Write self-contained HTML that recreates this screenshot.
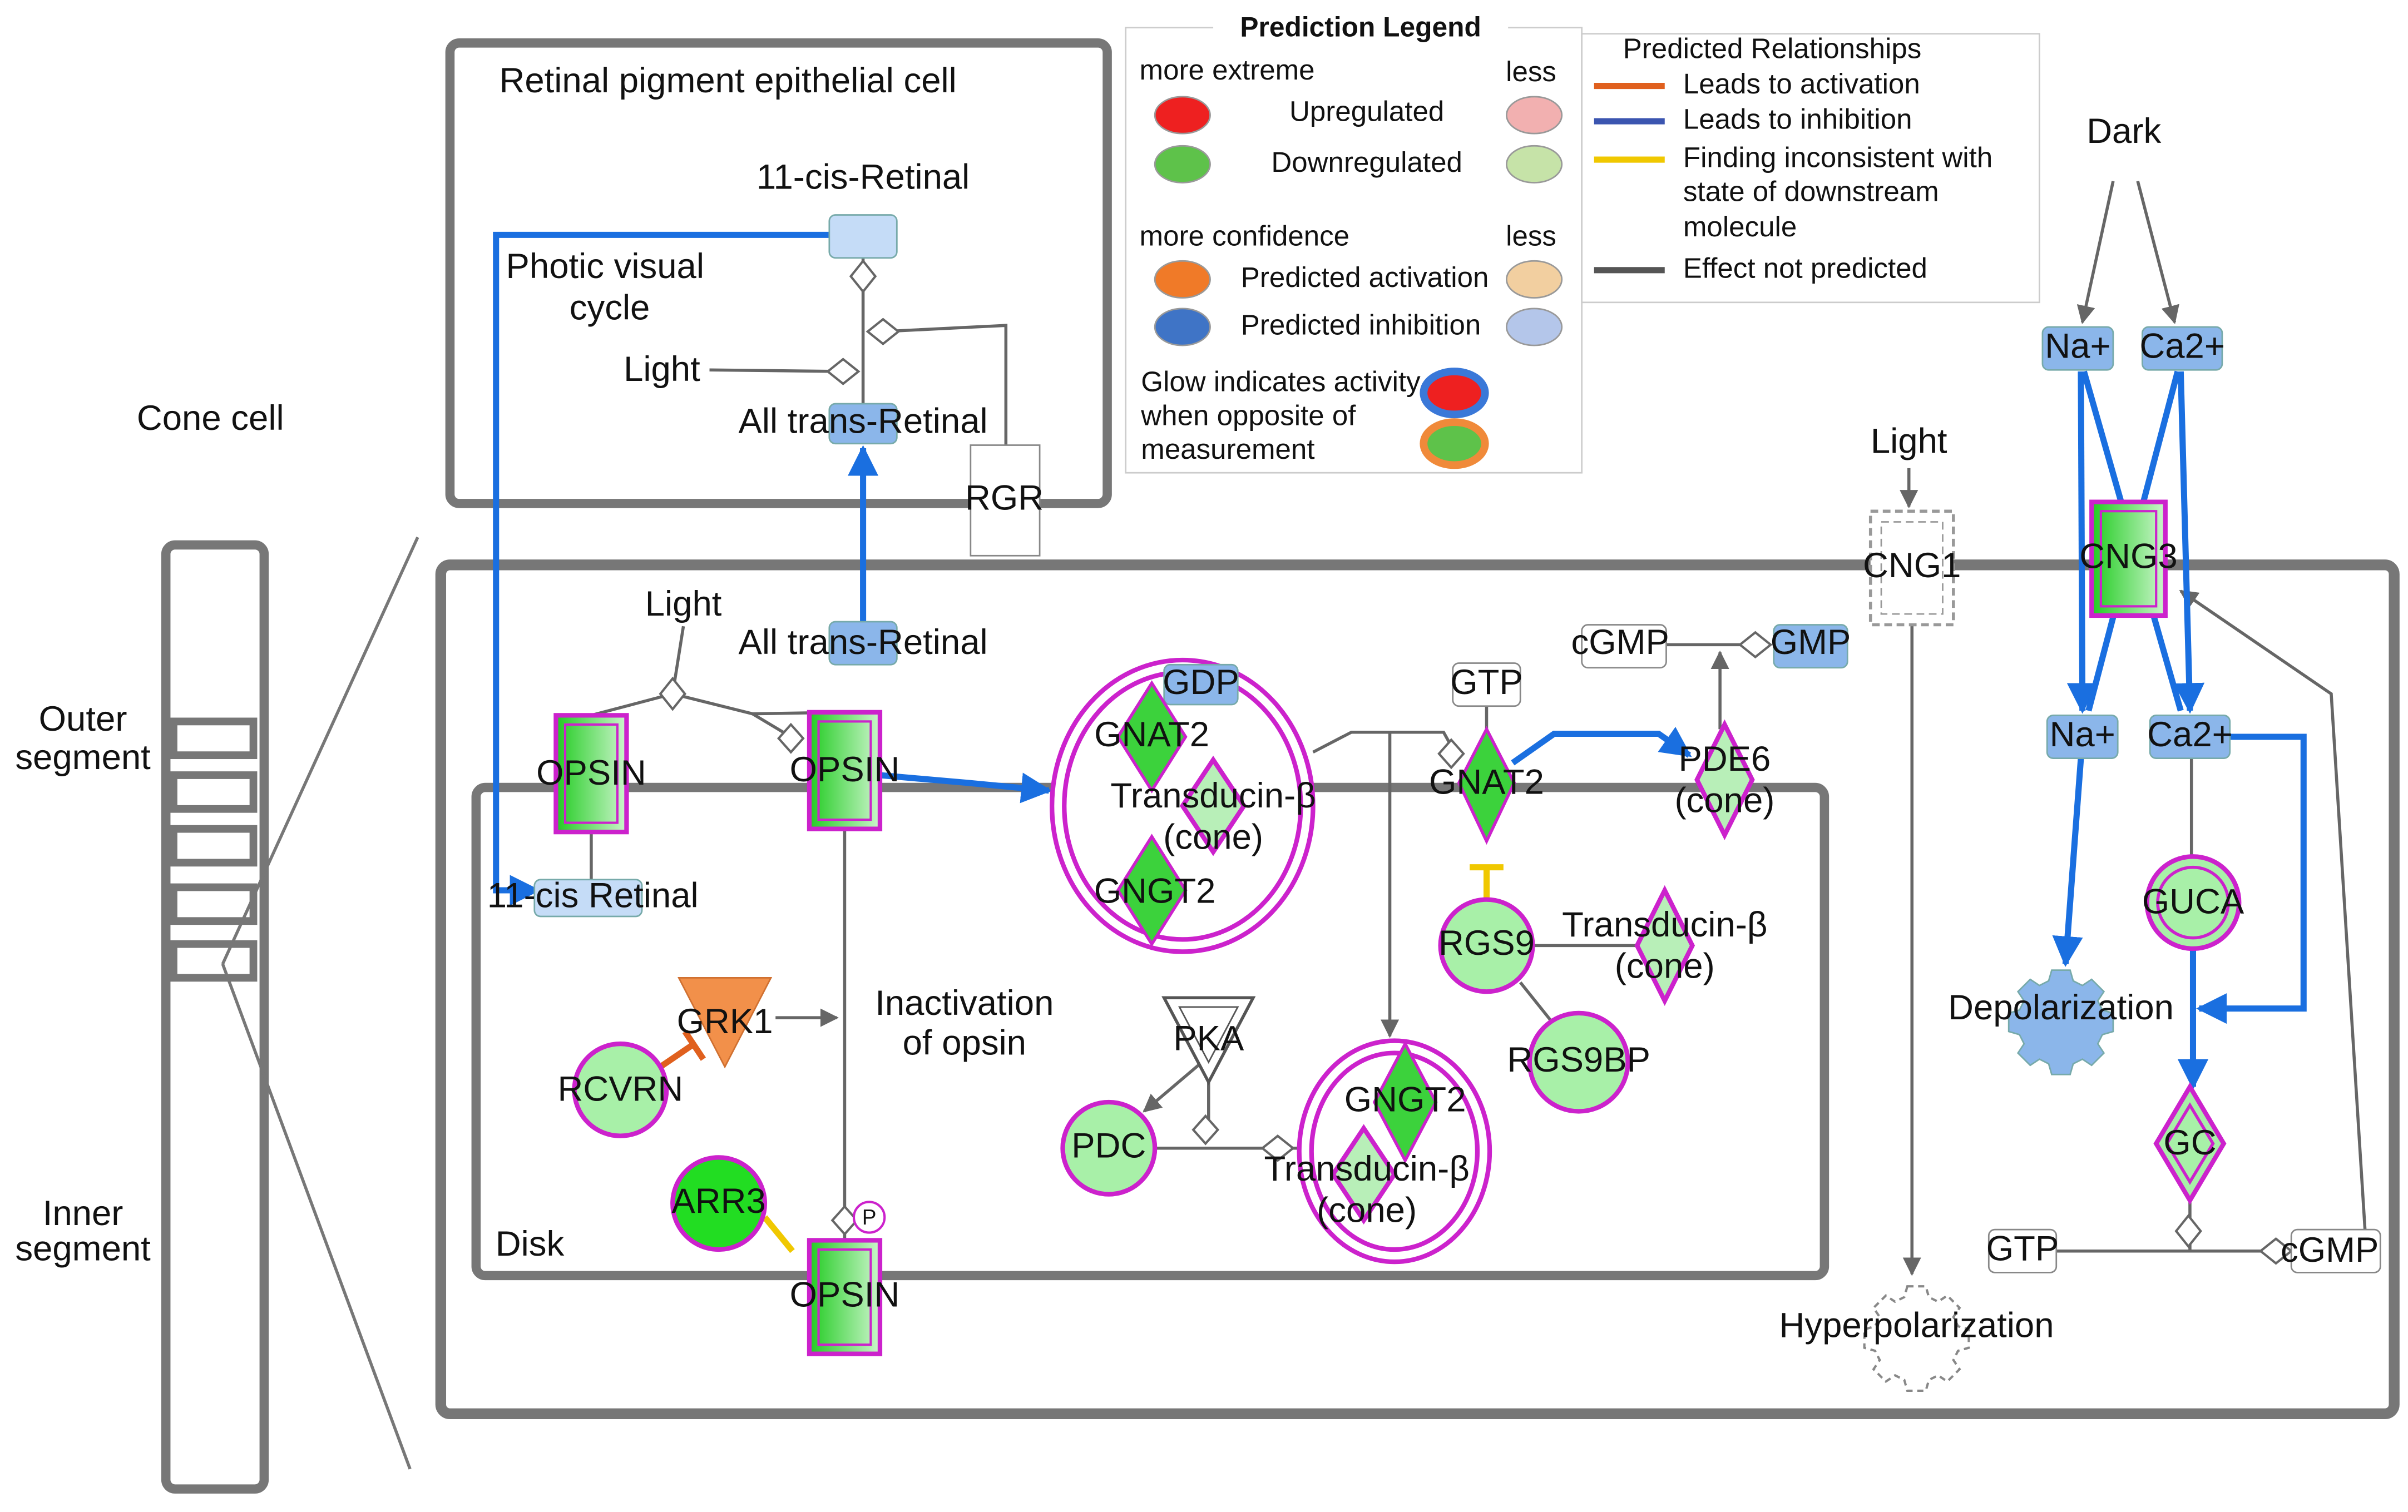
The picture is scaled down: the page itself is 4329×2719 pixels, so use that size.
<!DOCTYPE html>
<html><head><meta charset="utf-8"><style>
html,body{margin:0;padding:0;background:#fff;}
svg{display:block;}
text{font-family:"Liberation Sans",sans-serif;font-size:23px;fill:#111;text-anchor:middle;dominant-baseline:middle;}
text.lg{font-size:18.5px;}
</style></head><body>
<svg width="4329" height="2719" viewBox="0 0 1568 985" preserveAspectRatio="none" xmlns="http://www.w3.org/2000/svg">
<defs>
<linearGradient id="g" x1="0" x2="1"><stop offset="0" stop-color="#22cc22"/><stop offset="1" stop-color="#ccf5cc"/></linearGradient>
<marker id="ab" viewBox="0 0 10 10" refX="9" refY="5" markerWidth="5" markerHeight="5" orient="auto"><path d="M0,0L10,5L0,10z" fill="#1a6fe0"/></marker>
<marker id="ag" viewBox="0 0 10 10" refX="9" refY="5" markerWidth="6" markerHeight="6" orient="auto"><path d="M0,0L10,5L0,10z" fill="#666"/></marker>
<path id="gear" d="M-6,-24h12l2,7l6,3l6,-4l8,8l-4,6l3,6l7,2v12l-7,2l-3,6l4,6l-8,8l-6,-4l-6,3l-2,7h-12l-2,-7l-6,-3l-6,4l-8,-8l4,-6l-3,-6l-7,-2v-12l7,-2l3,-6l-4,-6l8,-8l6,4l6,-3z"/>
</defs>
<!-- containers -->
<rect x="293" y="28" width="428" height="300" rx="6" fill="none" stroke="#777" stroke-width="6"/>
<rect x="287" y="368" width="1272" height="553" rx="6" fill="none" stroke="#777" stroke-width="7"/>
<rect x="310" y="513" width="878" height="318" rx="6" fill="none" stroke="#777" stroke-width="6"/>
<rect x="108" y="355" width="64" height="615" rx="6" fill="none" stroke="#777" stroke-width="6"/>
<g fill="none" stroke="#777" stroke-width="5">
<rect x="113" y="470" width="52" height="22"/><rect x="113" y="505" width="52" height="22"/><rect x="113" y="540" width="52" height="22"/><rect x="113" y="578" width="52" height="22"/><rect x="113" y="615" width="52" height="22"/>
</g>
<line x1="272" y1="350" x2="145" y2="628" stroke="#777" stroke-width="2"/>
<line x1="145" y1="628" x2="267" y2="957" stroke="#777" stroke-width="2"/>
<text x="137" y="274">Cone cell</text>
<text x="54" y="470">Outer</text><text x="54" y="495">segment</text>
<text x="54" y="792">Inner</text><text x="54" y="815">segment</text>
<text x="474" y="54">Retinal pigment epithelial cell</text>
<text x="345" y="812">Disk</text>
<!-- legend -->
<rect x="733" y="18" width="297" height="290" fill="#fff" stroke="#ccc"/>
<rect x="1030" y="22" width="298" height="175" fill="#fff" stroke="#ccc"/>
<rect x="790" y="8" width="192" height="22" fill="#fff"/>
<text x="886" y="19" style="font-weight:bold;font-size:18px">Prediction Legend</text>
<text x="742" y="47" class="lg" style="text-anchor:start">more extreme</text><text x="997" y="48" class="lg">less</text>
<text x="890" y="74" class="lg">Upregulated</text><text x="890" y="107" class="lg">Downregulated</text>
<text x="742" y="155" class="lg" style="text-anchor:start">more confidence</text><text x="997" y="155" class="lg">less</text>
<text x="808" y="182" class="lg" style="text-anchor:start">Predicted activation</text><text x="808" y="213" class="lg" style="text-anchor:start">Predicted inhibition</text>
<text x="743" y="250" class="lg" style="text-anchor:start">Glow indicates activity</text>
<text x="743" y="272" class="lg" style="text-anchor:start">when opposite of</text>
<text x="743" y="294" class="lg" style="text-anchor:start">measurement</text>
<text x="1154" y="33" class="lg">Predicted Relationships</text>
<text x="1096" y="56" class="lg" style="text-anchor:start">Leads to activation</text>
<text x="1096" y="79" class="lg" style="text-anchor:start">Leads to inhibition</text>
<text x="1096" y="104" class="lg" style="text-anchor:start">Finding inconsistent with</text>
<text x="1096" y="126" class="lg" style="text-anchor:start">state of downstream</text>
<text x="1096" y="149" class="lg" style="text-anchor:start">molecule</text>
<text x="1096" y="176" class="lg" style="text-anchor:start">Effect not predicted</text>
<ellipse cx="770" cy="75" rx="18" ry="12" fill="#ee2020" stroke="#999"/>
<ellipse cx="770" cy="107" rx="18" ry="12" fill="#5ec24a" stroke="#999"/>
<ellipse cx="999" cy="75" rx="18" ry="12" fill="#f2b0b0" stroke="#999"/>
<ellipse cx="999" cy="107" rx="18" ry="12" fill="#c6e3a8" stroke="#999"/>
<ellipse cx="770" cy="182" rx="18" ry="12" fill="#f07a28" stroke="#999"/>
<ellipse cx="770" cy="213" rx="18" ry="12" fill="#3f74c6" stroke="#999"/>
<ellipse cx="999" cy="182" rx="18" ry="12" fill="#f2cfa0" stroke="#999"/>
<ellipse cx="999" cy="213" rx="18" ry="12" fill="#b4c6ea" stroke="#999"/>
<ellipse cx="947" cy="256" rx="20" ry="14" fill="#ee2020" stroke="#3a78d8" stroke-width="5"/>
<ellipse cx="947" cy="289" rx="20" ry="14" fill="#5ec24a" stroke="#f08a3a" stroke-width="5"/>
<g stroke-width="4"><line x1="1038" y1="56" x2="1084" y2="56" stroke="#e0601e"/><line x1="1038" y1="79" x2="1084" y2="79" stroke="#3b55b0"/><line x1="1038" y1="104" x2="1084" y2="104" stroke="#f0c800"/><line x1="1038" y1="176" x2="1084" y2="176" stroke="#555"/></g>
<!-- gray edges -->
<g stroke="#666" stroke-width="2" fill="none">
<line x1="562" y1="167" x2="562" y2="263"/>
<polyline points="575,216 655,212 655,290"/>
<line x1="462" y1="241" x2="549" y2="242"/>
<polyline points="445,408 438,452 385,466"/>
<polyline points="438,452 490,465 550,464"/>
<line x1="490" y1="465" x2="515" y2="480"/>
<line x1="385" y1="542" x2="385" y2="573"/>
<line x1="550" y1="540" x2="550" y2="808"/>
<polyline points="855,490 880,477 940,477 950,495"/>
<line x1="968" y1="460" x2="968" y2="475"/>
<line x1="1085" y1="420" x2="1145" y2="420"/>
<line x1="1120" y1="475" x2="1120" y2="425" marker-end="url(#ag)"/>
<line x1="905" y1="478" x2="905" y2="675" marker-end="url(#ag)"/>
<line x1="998" y1="616" x2="1070" y2="616"/>
<line x1="990" y1="640" x2="1010" y2="665"/>
<line x1="505" y1="663" x2="545" y2="663" marker-end="url(#ag)"/>
<line x1="787" y1="705" x2="787" y2="735"/>
<line x1="785" y1="690" x2="745" y2="724" marker-end="url(#ag)"/>
<line x1="752" y1="748" x2="845" y2="748"/>
<line x1="1243" y1="305" x2="1243" y2="330" marker-end="url(#ag)"/>
<line x1="1245" y1="407" x2="1245" y2="830" marker-end="url(#ag)"/>
<line x1="1376" y1="118" x2="1356" y2="210" marker-end="url(#ag)"/>
<line x1="1392" y1="118" x2="1416" y2="210" marker-end="url(#ag)"/>
<line x1="1427" y1="494" x2="1427" y2="558"/>
<line x1="1426" y1="780" x2="1426" y2="815"/>
<line x1="1339" y1="815" x2="1515" y2="815"/>
<polyline points="1540,801 1518,452 1420,385" marker-end="url(#ag)"/>
</g>
<!-- small diamonds -->
<g fill="#fff" stroke="#666" stroke-width="1.5">
<path d="M562,170l8,10l-8,10l-8,-10z"/><path d="M575,208l10,8l-10,8l-10,-8z"/><path d="M549,234l10,8l-10,8l-10,-8z"/>
<path d="M438,442l8,10l-8,10l-8,-10z"/><path d="M515,472l8,9l-8,9l-8,-9z"/>
<path d="M550,786l8,9l-8,9l-8,-9z"/><path d="M945,482l8,9l-8,9l-8,-9z"/>
<path d="M1143,412l10,8l-10,8l-10,-8z"/><path d="M785,727l8,9l-8,9l-8,-9z"/><path d="M832,740l10,8l-10,8l-10,-8z"/>
<path d="M1425,792l8,10l-8,10l-8,-10z"/><path d="M1482,807l10,8l-10,8l-10,-8z"/>
</g>
<!-- blue edges -->
<g stroke="#1a6fe0" stroke-width="4" fill="none">
<polyline points="540,153 323,153 323,580 350,580" marker-end="url(#ab)"/>
<line x1="562" y1="405" x2="562" y2="292" marker-end="url(#ab)"/>
<polyline points="573,505 630,510 683,515" marker-end="url(#ab)"/>
<polyline points="985,497 1012,478 1080,478 1100,492" marker-end="url(#ab)"/>
<line x1="1355" y1="242" x2="1356" y2="463" marker-end="url(#ab)"/>
<line x1="1420" y1="242" x2="1426" y2="463" marker-end="url(#ab)"/>
<line x1="1357" y1="242" x2="1420" y2="463"/>
<line x1="1418" y1="242" x2="1360" y2="463"/>
<line x1="1355" y1="494" x2="1345" y2="628" marker-end="url(#ab)"/>
<polyline points="1452,480 1500,480 1500,657 1432,657" marker-end="url(#ab)"/>
<line x1="1428" y1="618" x2="1428" y2="708" marker-end="url(#ab)"/>
</g>
<!-- inhibition -->
<g stroke-width="4" fill="none">
<line x1="968" y1="585" x2="968" y2="565" stroke="#f0c800"/><line x1="957" y1="565" x2="979" y2="565" stroke="#f0c800"/>
<line x1="498" y1="793" x2="516" y2="815" stroke="#f0c800"/>
<line x1="430" y1="695" x2="452" y2="680" stroke="#e0601e"/><line x1="446" y1="672" x2="458" y2="690" stroke="#e0601e"/>
</g>
<!-- nodes -->
<rect x="540" y="140" width="44" height="28" rx="4" fill="#c5dcf7" stroke="#7aa"/>
<text x="562" y="117">11-cis-Retinal</text>
<text x="394" y="175">Photic visual</text><text x="397" y="202">cycle</text>
<text x="431" y="242">Light</text>
<rect x="540" y="263" width="44" height="26" rx="4" fill="#8bb6ea" stroke="#7aa"/>
<text x="562" y="276">All trans-Retinal</text>
<rect x="632" y="290" width="45" height="72" fill="#fff" stroke="#888"/>
<text x="654" y="326">RGR</text>
<text x="445" y="395">Light</text>
<rect x="540" y="405" width="44" height="28" rx="4" fill="#8bb6ea" stroke="#7aa"/>
<text x="562" y="420">All trans-Retinal</text>
<rect x="348" y="573" width="70" height="24" rx="4" fill="#c5dcf7" stroke="#7aa"/>
<text x="386" y="585">11-cis Retinal</text>
<g stroke="#cc22cc" stroke-width="3" fill="url(#g)">
<rect x="362" y="466" width="46" height="76"/><rect x="527" y="464" width="46" height="76"/><rect x="527" y="808" width="46" height="74"/>
</g>
<g stroke="#cc22cc" stroke-width="1.5" fill="none">
<rect x="368" y="472" width="34" height="64"/><rect x="533" y="470" width="34" height="64"/><rect x="533" y="814" width="34" height="62"/>
</g>
<text x="385" y="505">OPSIN</text><text x="550" y="503">OPSIN</text><text x="550" y="845">OPSIN</text>
<circle cx="566" cy="793" r="10" fill="#fff" stroke="#cc22cc" stroke-width="1.5"/><text x="566" y="794" style="font-size:14px">P</text>
<!-- transducin complex -->
<ellipse cx="770" cy="525" rx="85" ry="95" fill="#fff" stroke="#cc22cc" stroke-width="3"/>
<ellipse cx="770" cy="525" rx="77" ry="87" fill="none" stroke="#cc22cc" stroke-width="3"/>
<rect x="758" y="433" width="48" height="26" rx="4" fill="#8bb6ea" stroke="#7aa"/>
<path d="M750,445l22,35l-22,35l-22,-35z" fill="#3cd23c" stroke="#cc22cc" stroke-width="2"/>
<path d="M790,495l20,30l-20,30l-20,-30z" fill="#b8efb8" stroke="#cc22cc" stroke-width="3"/>
<path d="M750,545l22,35l-22,35l-22,-35z" fill="#3cd23c" stroke="#cc22cc" stroke-width="2"/>
<text x="782" y="446">GDP</text><text x="750" y="480">GNAT2</text><text x="790" y="520">Transducin-β</text><text x="790" y="547">(cone)</text><text x="752" y="582">GNGT2</text>
<rect x="946" y="432" width="44" height="28" rx="4" fill="#fff" stroke="#888"/><text x="968" y="446">GTP</text>
<path d="M968,475l18,35l-18,38l-18,-38z" fill="#3cd23c" stroke="#cc22cc" stroke-width="2"/><text x="968" y="511">GNAT2</text>
<rect x="1030" y="407" width="55" height="28" rx="4" fill="#fff" stroke="#888"/><text x="1055" y="420">cGMP</text>
<rect x="1155" y="407" width="48" height="28" rx="4" fill="#8bb6ea" stroke="#7aa"/><text x="1179" y="420">GMP</text>
<path d="M1123,472l18,36l-18,36l-18,-36z" fill="#b8efb8" stroke="#cc22cc" stroke-width="3"/>
<text x="1123" y="496">PDE6</text><text x="1123" y="523">(cone)</text>
<circle cx="968" cy="616" r="30" fill="#a8f0a8" stroke="#cc22cc" stroke-width="3"/><text x="968" y="616">RGS9</text>
<path d="M1084,580l18,36l-18,36l-18,-36z" fill="#b8efb8" stroke="#cc22cc" stroke-width="3"/>
<text x="1084" y="604">Transducin-β</text><text x="1084" y="631">(cone)</text>
<circle cx="1028" cy="692" r="32" fill="#a8f0a8" stroke="#cc22cc" stroke-width="3"/><text x="1028" y="692">RGS9BP</text>
<path d="M442,637L502,637L472,695z" fill="#f2904a" stroke="#d07030"/><text x="472" y="667">GRK1</text>
<circle cx="404" cy="710" r="30" fill="#a8f0a8" stroke="#cc22cc" stroke-width="3"/><text x="404" y="711">RCVRN</text>
<text x="628" y="655">Inactivation</text><text x="628" y="681">of opsin</text>
<circle cx="468" cy="784" r="30" fill="#22dd22" stroke="#cc22cc" stroke-width="3"/><text x="468" y="784">ARR3</text>
<path d="M758,650L816,650L787,705z" fill="#fff" stroke="#555" stroke-width="2"/><path d="M768,656L806,656L787,692z" fill="none" stroke="#555"/>
<text x="787" y="678">PKA</text>
<circle cx="722" cy="748" r="30" fill="#a8f0a8" stroke="#cc22cc" stroke-width="3"/><text x="722" y="748">PDC</text>
<ellipse cx="908" cy="750" rx="62" ry="72" fill="#fff" stroke="#cc22cc" stroke-width="3"/>
<ellipse cx="908" cy="750" rx="54" ry="64" fill="none" stroke="#cc22cc" stroke-width="3"/>
<path d="M915,680l20,38l-20,38l-20,-38z" fill="#3cd23c" stroke="#cc22cc" stroke-width="2"/>
<path d="M888,735l20,30l-20,30l-20,-30z" fill="#b8efb8" stroke="#cc22cc" stroke-width="3"/>
<text x="915" y="718">GNGT2</text><text x="890" y="763">Transducin-β</text><text x="890" y="790">(cone)</text>
<!-- right side -->
<text x="1243" y="289">Light</text>
<rect x="1218" y="333" width="54" height="74" fill="#fff" stroke="#999" stroke-dasharray="5,3" stroke-width="2"/>
<rect x="1225" y="340" width="40" height="60" fill="none" stroke="#999" stroke-dasharray="5,3"/>
<text x="1245" y="370">CNG1</text>
<use href="#gear" x="1248" y="862" fill="#fff" stroke="#888" stroke-width="1.5" stroke-dasharray="4,3"/>
<text x="1248" y="865">Hyperpolarization</text>
<text x="1383" y="87">Dark</text>
<rect x="1330" y="213" width="46" height="28" rx="4" fill="#8bb6ea" stroke="#7aa"/><text x="1353" y="227">Na+</text>
<rect x="1395" y="213" width="52" height="28" rx="4" fill="#8bb6ea" stroke="#7aa"/><text x="1421" y="227">Ca2+</text>
<rect x="1362" y="327" width="48" height="74" fill="url(#g)" stroke="#cc22cc" stroke-width="3"/>
<rect x="1368" y="333" width="36" height="62" fill="none" stroke="#cc22cc" stroke-width="1.5"/>
<text x="1386" y="364">CNG3</text>
<rect x="1333" y="466" width="46" height="28" rx="4" fill="#8bb6ea" stroke="#7aa"/><text x="1356" y="480">Na+</text>
<rect x="1400" y="466" width="52" height="28" rx="4" fill="#8bb6ea" stroke="#7aa"/><text x="1426" y="480">Ca2+</text>
<circle cx="1428" cy="588" r="30" fill="#a8f0a8" stroke="#cc22cc" stroke-width="3"/>
<circle cx="1428" cy="588" r="23" fill="none" stroke="#cc22cc" stroke-width="2"/>
<text x="1428" y="589">GUCA</text>
<use href="#gear" x="1342" y="656" fill="#8bb6ea" stroke="#7aa"/>
<text x="1342" y="658">Depolarization</text>
<path d="M1426,708l22,37l-22,37l-22,-37z" fill="#a8f0a8" stroke="#cc22cc" stroke-width="3"/>
<path d="M1426,720l15,25l-15,25l-15,-25z" fill="none" stroke="#cc22cc" stroke-width="2"/>
<text x="1426" y="746">GC</text>
<rect x="1295" y="801" width="44" height="28" rx="4" fill="#fff" stroke="#888"/><text x="1317" y="815">GTP</text>
<rect x="1492" y="801" width="58" height="28" rx="4" fill="#fff" stroke="#888"/><text x="1517" y="816">cGMP</text>
</svg>
</body></html>
